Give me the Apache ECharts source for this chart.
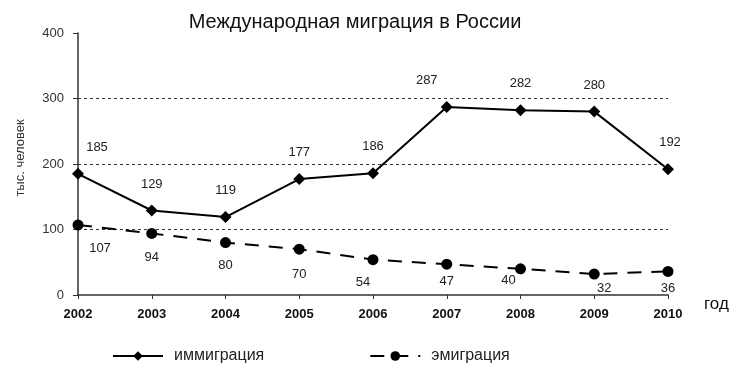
<!DOCTYPE html>
<html><head><meta charset="utf-8">
<script src="https://cdn.jsdelivr.net/npm/echarts@6/dist/echarts.min.js"></script>
<style>html,body{margin:0;padding:0;background:#fff}#c{width:745px;height:387px}</style>
</head><body><div id="c"></div>
<script>
const years = ['2002','2003','2004','2005','2006','2007','2008','2009','2010'];
const immigration = [185,129,119,177,186,287,282,280,192];
const emigration = [107,94,80,70,54,47,40,32,36];
const yTicks = [0,100,200,300,400];
const titleText = 'Международная миграция в России';
const yName = 'тыс. человек';
const xName = 'год';
const seriesNames = ['иммиграция','эмиграция'];

// label nudges (style only)
const immiLabelShift = [[19,0],[0,0],[0,0],[0,0],[0,0],[-20,0],[0,0],[0,0],[2,0]];
const emiLabelShift = [[22,1],[0,1],[0,0],[0,2],[-10,0],[0,-6],[-12,-11],[10,-9],[0,-6]];

const chart = echarts.init(document.getElementById('c'));
chart.setOption({
  backgroundColor:'#fff',
  animation:false,
  title:{text:titleText,left:350,top:7,textAlign:'center',
    textStyle:{fontFamily:'Liberation Sans',fontSize:20,fontWeight:'normal',color:'#111'}},
  grid:{left:78,right:77,top:33,bottom:92},
  legend:{left:107,top:343,itemWidth:50,itemHeight:12,itemGap:105,
    textStyle:{fontFamily:'Liberation Sans',fontSize:16,color:'#222',padding:[0,0,0,6]},
    data:seriesNames},
  xAxis:{type:'category',data:years,boundaryGap:false,
    name:xName,nameLocation:'end',nameGap:36,
    nameTextStyle:{fontFamily:'Liberation Sans',fontSize:17,color:'#111',verticalAlign:'top',padding:[1,0,0,0]},
    axisLine:{lineStyle:{color:'#333',width:1.5}},
    axisTick:{show:true,length:4,inside:false,alignWithLabel:true,lineStyle:{color:'#333'}},
    axisLabel:{margin:13,fontFamily:'Liberation Sans',fontSize:13,fontWeight:'bold',color:'#111'},
    splitLine:{show:false}},
  yAxis:{type:'value',min:yTicks[0],max:yTicks[yTicks.length-1],interval:100,
    name:yName,nameLocation:'middle',nameGap:51,nameRotate:90,
    nameTextStyle:{fontFamily:'Liberation Sans',fontSize:13,color:'#333',padding:[0,0,0,12]},
    axisLine:{show:true,lineStyle:{color:'#333',width:1.5}},
    axisTick:{show:true,length:5,lineStyle:{color:'#333'}},
    axisLabel:{margin:14,fontFamily:'Liberation Sans',fontSize:13,color:'#333'},
    splitLine:{show:true,lineStyle:{color:'#333',type:[3,3],width:1},
      showMinLine:false,showMaxLine:false}},
  series:[
    {name:seriesNames[0],type:'line',
      data:immigration.map((v,i)=>({value:v,label:{offset:immiLabelShift[i]}})),
      symbol:'diamond',symbolSize:12,
      lineStyle:{color:'#000',width:2},itemStyle:{color:'#000'},
      label:{show:true,position:'top',distance:14,fontFamily:'Liberation Sans',fontSize:13,color:'#222'}},
    {name:seriesNames[1],type:'line',
      data:emigration.map((v,i)=>({value:v,label:{offset:emiLabelShift[i]}})),
      symbol:'circle',symbolSize:11,
      lineStyle:{color:'#000',width:2,type:[14,10]},itemStyle:{color:'#000'},
      label:{show:true,position:'bottom',distance:11,fontFamily:'Liberation Sans',fontSize:13,color:'#222'}}
  ]
});
</script></body></html>
